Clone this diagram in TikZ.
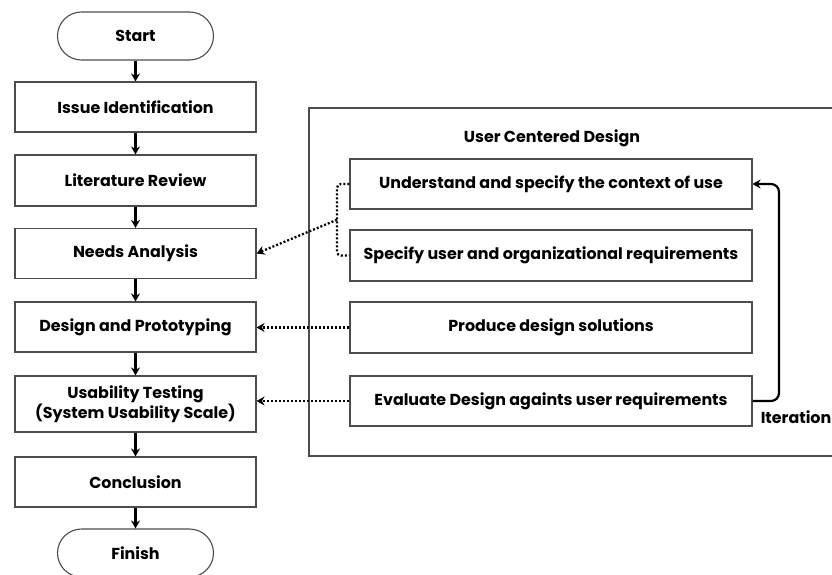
\documentclass[tikz,border=0pt]{standalone}
\usepackage{fontspec}
\setmainfont{Poppins}
\usetikzlibrary{arrows.meta}
\begin{document}
\begin{tikzpicture}[x=1pt,y=-1pt,
  txt/.style={font=\bfseries\fontsize{15.9}{19.5}\selectfont, text=black},
  box/.style={txt, draw=black!70, line width=1.1pt, inner sep=0pt, align=center, fill=white},
  lbox/.style={box, minimum width=241pt},
  rbox/.style={box, minimum width=402pt, minimum height=50pt},
  term/.style={box, minimum width=156pt, minimum height=48pt, rounded corners=24pt},
  arr/.style={line width=2.2pt, -{Stealth[length=8pt,width=9pt]}},
  dotarr/.style={line width=2.3pt, dash pattern=on 2pt off 2pt, -{Stealth[length=8pt,width=9pt]}},
  dotline/.style={line width=2.3pt, dash pattern=on 2pt off 2pt, rounded corners=4pt}
]
\useasboundingbox (0,0) rectangle (832,575);

% outer frame
\draw[black!70, line width=1.1pt] (832,108) -- (309,108) -- (309,456) -- (832,456);
\node[txt] (ucd) at (552,138.5) {User Centered Design};

% left column
\node[term] (start) at (135.5,36) {Start};
\node[lbox, minimum height=50pt] (issue) at (135.5,107) {Issue Identification};
\node[lbox, minimum height=51pt] (lit) at (135.5,180.5) {Literature Review};
\node[lbox, minimum height=50pt] (needs) at (135.5,253.5) {Needs Analysis};
\node[lbox, minimum height=50pt] (dp) at (135.5,327) {Design and Prototyping};
\node[lbox, minimum height=56pt] (ut) at (135.5,404) {Usability Testing\\(System Usability Scale)};
\node[lbox, minimum height=50pt] (concl) at (135.5,482) {Conclusion};
\node[term] (finish) at (135.5,553) {Finish};

\draw[arr] (start) -- (issue);
\draw[arr] (issue) -- (lit);
\draw[arr] (lit) -- (needs);
\draw[arr] (needs) -- (dp);
\draw[arr] (dp) -- (ut);
\draw[arr] (ut) -- (concl);
\draw[arr] (concl) -- (finish);

% right column
\node[rbox] (u1) at (551,184) {Understand and specify the context of use};
\node[rbox, minimum height=51pt] (u2) at (551,255.5) {Specify user and organizational requirements};
\node[rbox, minimum height=51pt] (u3) at (551,327.5) {Produce design solutions};
\node[rbox] (u4) at (551,401) {Evaluate Design againts user requirements};

% dotted links
\coordinate (brk) at (337,219.75);
\draw[dotline] (u1.west) -| (brk) |- (u2.west);
\draw[dotarr] (brk) -- (needs.east);
\draw[dotarr] (u3.west) -- (dp.east |- u3.west);
\draw[dotarr] (u4.west) -- (ut.east |- u4.west);

% iteration loop
\coordinate (it) at (779,184);
\draw[arr, rounded corners=8pt] (u4.east) -| (it) -- (u1.east);
\node[txt, anchor=east, inner sep=0pt] (itlbl) at (831.5,417) {Iteration};
\end{tikzpicture}
\end{document}
